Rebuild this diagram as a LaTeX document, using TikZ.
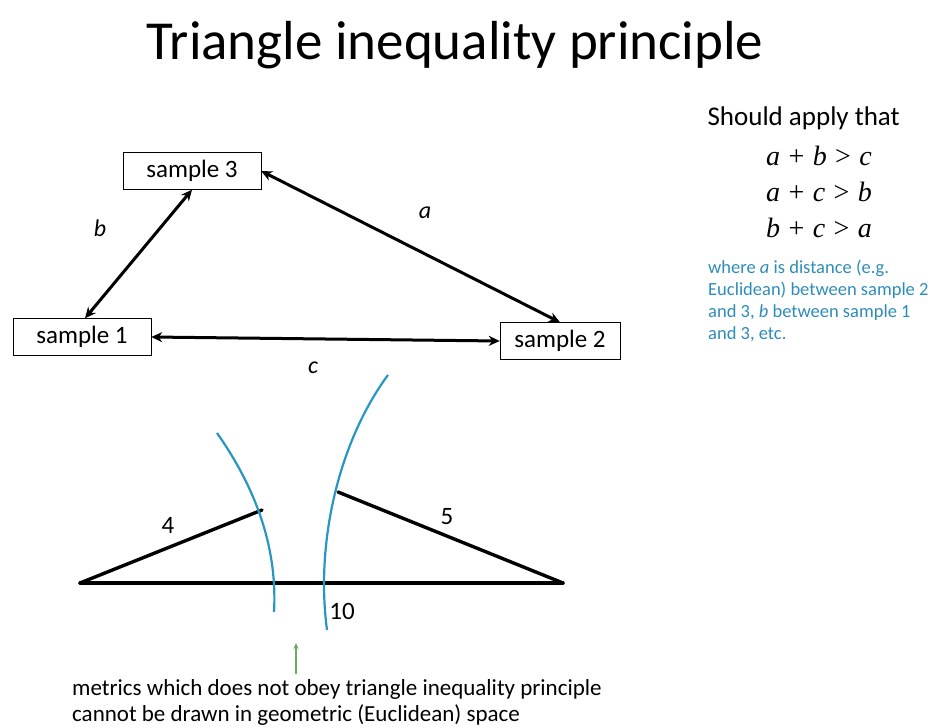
\documentclass[tikz,border=0pt]{standalone}
\usepackage{fontspec}
\setmainfont{Carlito}
\newfontfamily\eqfont{Liberation Serif}
\usepackage{tikz}
\usetikzlibrary{arrows.meta, positioning}
\definecolor{arcblue}{RGB}{40,150,195}
\definecolor{noteblue}{RGB}{45,140,185}
\definecolor{pointgreen}{RGB}{110,170,100}
\newcommand{\ineqline}[3]{\textit{#1}\hspace{0.3em}+\hspace{0.3em}\textit{#2}\hspace{0.3em}>\hspace{0.3em}\textit{#3}}

\begin{document}
\begin{tikzpicture}[
        x=1pt, y=-1pt,
        samplebox/.style={draw, fill=white, font=\fontsize{25}{28}\selectfont, minimum width=138pt, minimum height=37pt, inner sep=2pt},
        dist/.style={{Stealth[length=11pt,width=10pt]}-{Stealth[length=11pt,width=10pt]}, line width=3pt},
        side/.style={line width=3.4pt, line cap=round},
        cut/.style={arcblue, line width=2.2pt},
        lbl/.style={font=\fontsize{24}{26}\selectfont\itshape},
        ineq/.style={font=\eqfont\fontsize{28}{30}\selectfont}
        ]
        \useasboundingbox (0,0) rectangle (946,728);

        % title
        \node (title) at (455,45) {\fontsize{55}{60}\selectfont Triangle inequality principle};

        % sample boxes
        \node[samplebox] (s3) at (192,171) {sample 3};
        \node[samplebox] (s1) at (82,337) {sample 1};
        \node[samplebox, minimum width=120pt] (s2) at (560,341) {sample 2};

        \draw[dist] (s1.north) ++(3,0) coordinate (s1n) (s1n) -- (s3.south);
        \draw[dist] (s3.east) -- (s2.north);
        \draw[dist] (s1.east) -- (s2.west);

        \node[lbl] (lb) at (100,228) {b};
        \node[lbl] (la) at (425,213) {a};
        \node[lbl] (lc) at (313,368) {c};

        % conditions
        \node[anchor=west, font=\fontsize{27}{30}\selectfont] (apply) at (704,118) {Should apply that};
        \node[ineq] (ineq1) at (819,156) {\ineqline{a}{b}{c}};
        \node[ineq] (ineq2) at (819,192) {\ineqline{a}{c}{b}};
        \node[ineq] (ineq3) at (819,228) {\ineqline{b}{c}{a}};
        \node[anchor=north west, align=left, text=noteblue, font=\fontsize{18.5}{22}\selectfont, inner sep=0pt] (note) at (708,260)
            {where \textit{a} is distance (e.g.\\Euclidean) between sample 2\\and 3, \textit{b} between sample 1\\and 3, etc.};

        % impossible triangle
        \coordinate (p0) at (80,583);
        \coordinate (p1) at (563,583);
        \coordinate (q4) at (262,510);
        \coordinate (q5) at (338,492);
        \draw[side] (p0) -- (p1);
        \draw[side] (p0) -- (q4);
        \draw[side] (p1) -- (q5);
        \draw[cut] (217,433) .. controls (250,480) and (278,540) .. (274,612);
        \draw[cut] (388,375) .. controls (340,440) and (315,540) .. (327,630);

        \node[font=\fontsize{25}{28}\selectfont] (l4) at (168,525) {4};
        \node[font=\fontsize{25}{28}\selectfont] (l5) at (447,517) {5};
        \node[font=\fontsize{25}{28}\selectfont] (l10) at (342,611) {10};

        % remark
        \node[anchor=north west, align=left, font=\fontsize{23}{26}\selectfont, inner sep=0pt] (remark) at (72,679)
            {metrics which does not obey triangle inequality principle\\cannot be drawn in geometric (Euclidean) space};
        \coordinate (mark) at (296,643);
        \draw[pointgreen, -{Stealth[length=6pt,width=5pt]}, line width=1.2pt] (remark.north west -| mark) ++(0,-5) coordinate (mk) (mk) -- (mark);
    \end{tikzpicture}
\end{document}
